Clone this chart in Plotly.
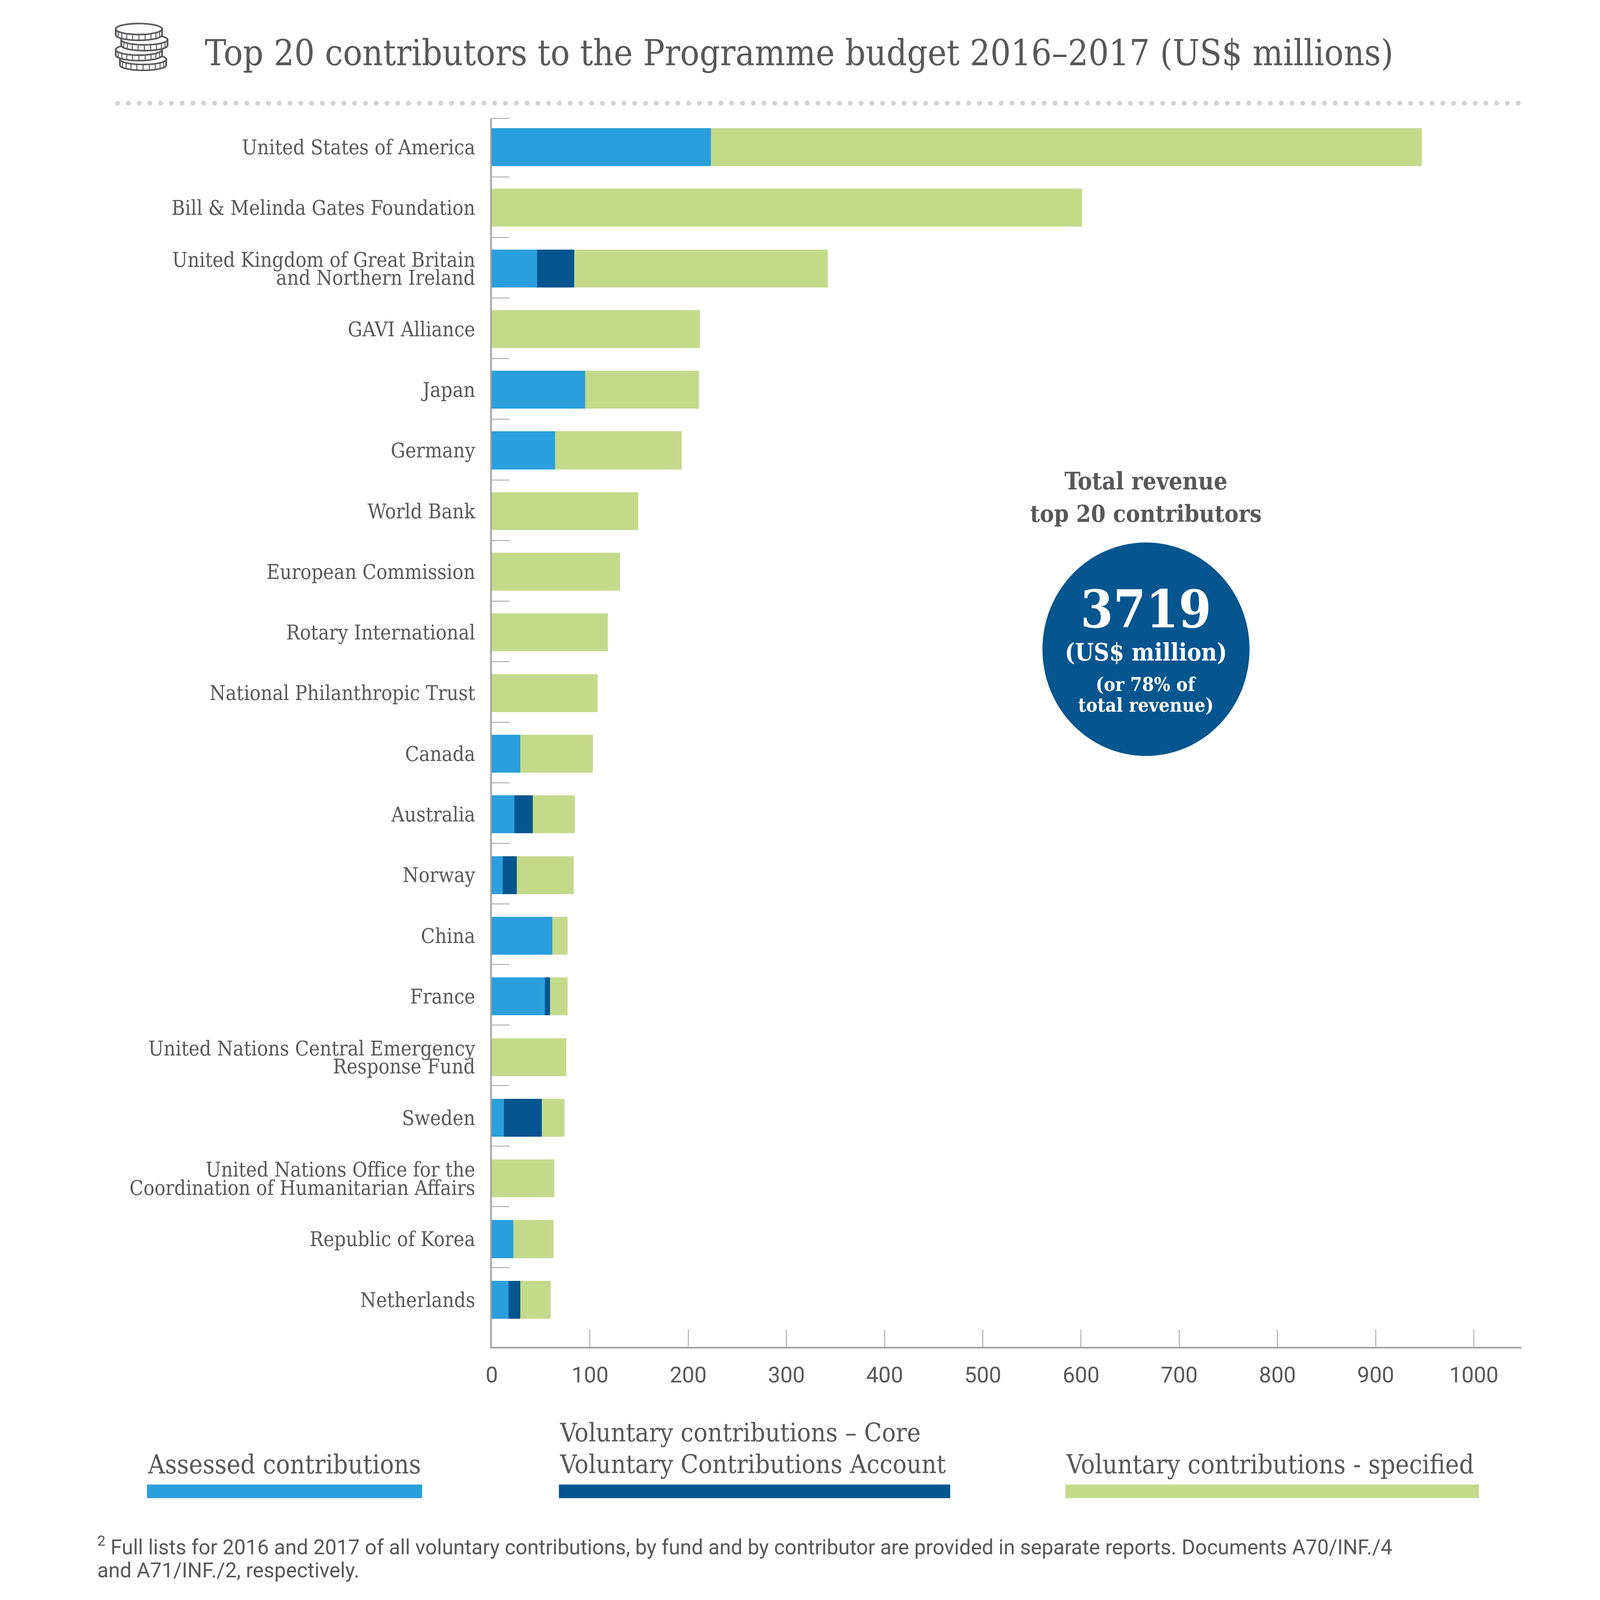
import numpy as np
import plotly.graph_objects as go

# all numbers below are in picture pixels; the browser page is 4096 css px wide for the 4961 px shot
W, H = 4961, 4936
S = 4096 / W
L, R, T, B = 1525, 4717, 367, 4176

# contributors, top to bottom (\n marks a forced line break)
contributors = [
    "United States of America",
    "Bill & Melinda Gates Foundation",
    "United Kingdom of Great Britain\nand Northern Ireland",
    "GAVI Alliance",
    "Japan",
    "Germany",
    "World Bank",
    "European Commission",
    "Rotary International",
    "National Philanthropic Trust",
    "Canada",
    "Australia",
    "Norway",
    "China",
    "France",
    "United Nations Central Emergency\nResponse Fund",
    "Sweden",
    "United Nations Office for the\nCoordination of Humanitarian Affairs",
    "Republic of Korea",
    "Netherlands",
]
assessed = [223, 0, 46, 0, 95, 64.5, 0, 0, 0, 0, 29, 23, 11, 61.5, 54, 0, 12.5, 0, 22, 17]
core = [0, 0, 38, 0, 0, 0, 0, 0, 0, 0, 0, 18.7, 14.5, 0, 5.2, 0, 38.5, 0, 0, 12]
specified = [724, 601, 258, 212, 116, 129, 149, 130.5, 118, 107.6, 74, 43, 58, 15.5, 18, 76, 23, 63.5, 41, 31]
x_ticks = [0, 100, 200, 300, 400, 500, 600, 700, 800, 900, 1000]

BLUE = "#2a9fdc"
NAVY = "#05558f"
GREEN = "#c4da8b"
TEXT = "#58585a"
AXIS = "#a0a0a0"
SLAB = "DejaVu Serif Condensed"
SANS = "Roboto"


def px(x):
    return (x - L) / (R - L)


def py(y):
    return (B - y) / (B - T)


def note(x, y, text, size, family=SLAB, color=TEXT, anchor="left"):
    return dict(x=px(x), y=py(y), xref="paper", yref="paper", text=text, showarrow=False,
                xanchor=anchor, yanchor="middle", font=dict(family=family, size=size * S, color=color))


def box(x0, y0, x1, y1, color, kind="rect"):
    return dict(type=kind, xref="paper", yref="paper", x0=px(x0), x1=px(x1), y0=py(y0), y1=py(y1),
                fillcolor=color, line=dict(width=0))


def poly(points, fill=None, width=5):
    path = "M" + "L".join(f"{px(a):.6f},{py(b):.6f}" for a, b in points) + "Z"
    return dict(type="path", xref="paper", yref="paper", path=path,
                fillcolor=fill or "rgba(0,0,0,0)", line=dict(color=TEXT, width=width * S))


def coin(cx, top, rx, ry, h):
    # one coin of the icon: side wall, ribbing, then the top face
    t = np.linspace(0, np.pi, 30)
    bottom = [(cx + rx * np.cos(a), top + h + ry * np.sin(a)) for a in t]
    wall = [(cx + rx, top)] + bottom + [(cx - rx, top)]
    out = [poly(wall, "white")]
    for a in np.linspace(0.2, np.pi - 0.2, 11):
        x = cx + rx * np.cos(a)
        y = ry * np.sin(a)
        out.append(dict(type="line", xref="paper", yref="paper", x0=px(x), x1=px(x),
                        y0=py(top + y + 2), y1=py(top + h + y), line=dict(color=TEXT, width=3 * S)))
    out.append(poly([(cx + rx * np.cos(a), top + ry * np.sin(a)) for a in np.linspace(0, 2 * np.pi, 60)], "white"))
    return out


# y tick labels: two-line names get one tick per line, the line spacing is tighter than a <br>
tick_vals, tick_text = [], []
for i, name in enumerate(contributors):
    lines = name.split("\n")
    if len(lines) == 1:
        tick_vals.append(i)
        tick_text.append(name)
    else:
        tick_vals += [i - 0.145, i + 0.155]
        tick_text += lines

fig = go.Figure()
y_pos = list(range(len(contributors)))
for name, vals, color in [("Assessed contributions", assessed, BLUE),
                          ("Voluntary contributions – Core Voluntary Contributions Account", core, NAVY),
                          ("Voluntary contributions - specified", specified, GREEN)]:
    fig.add_trace(go.Bar(y=y_pos, x=vals, name=name, orientation="h", width=0.625,
                         marker=dict(color=color, line=dict(width=0))))

shapes = []
# coins, bottom one first
shapes += coin(444, 184, 72, 16, 18)
shapes += coin(431, 154, 72, 17, 17)
shapes += coin(448, 123, 72, 16, 18)
shapes += coin(431, 90, 72, 17, 18)
# dotted rule under the title
for x in np.arange(365, 4717, 33.4):
    shapes.append(box(x - 7.5, 312.5, x + 7.5, 327.5, "#d1d1d1", "circle"))
# legend swatches
shapes.append(box(456, 4603, 1309, 4645, BLUE))
shapes.append(box(1733, 4603, 2946, 4645, NAVY))
shapes.append(box(3303, 4603, 4585, 4645, GREEN))
# total revenue disc, it is a little taller than wide in the source
shapes.append(box(3553 - 321, 2013 - 331, 3553 + 321, 2013 + 331, NAVY, "circle"))

annotations = [
    note(3553, 1491, "<b>Total revenue</b>", 74, anchor="center"),
    note(3553, 1592, "<b>top 20 contributors</b>", 73, anchor="center"),
    note(3553, 1888, "<b>3719</b>", 162, color="white", anchor="center"),
    note(3553, 2022, "<b>(US$ million)</b>", 74, color="white", anchor="center"),
    note(3553, 2121, "<b>(or 78% of</b>", 59, color="white", anchor="center"),
    note(3553, 2185, "<b>total revenue)</b>", 59, color="white", anchor="center"),
    note(456, 4540, "Assessed contributions", 80.5),
    note(1733, 4442, "Voluntary contributions – Core", 80),
    note(1733, 4540, "Voluntary Contributions Account", 80),
    note(3303, 4540, "Voluntary contributions - specified", 80.5),
    note(300, 4793, "<sup>2</sup> Full lists for 2016 and 2017 of all voluntary contributions, by fund and by contributor "
                    "are provided in separate reports. Documents A70/INF./4", 64, family=SANS),
    note(300, 4869, "and A71/INF./2, respectively.", 64, family=SANS),
]

fig.update_layout(
    width=round(W * S),
    height=round(H * S),
    barmode="stack",
    showlegend=False,
    plot_bgcolor="white",
    paper_bgcolor="white",
    margin=dict(l=L * S, r=(W - R) * S, t=T * S, b=(H - B) * S, pad=0, autoexpand=False),
    title=dict(text="Top 20 contributors to the Programme budget 2016–2017 (US$ millions)",
               x=635 / W, xanchor="left", xref="container", y=1 - 164 / H, yanchor="middle", yref="container",
               font=dict(family=SLAB, size=111 * S, color=TEXT)),
    shapes=shapes,
    annotations=annotations,
    xaxis=dict(range=[0, 1048.5], tickvals=x_ticks, ticks="inside", ticklen=53 * S, tickwidth=3 * S, tickcolor=AXIS,
               showline=True, linecolor=AXIS, linewidth=5 * S, showgrid=False, zeroline=False,
               ticklabelstandoff=round(24 * S), tickfont=dict(family=SANS, size=68 * S, color=TEXT)),
    yaxis=dict(range=[19.777, -0.473], tickmode="array", tickvals=tick_vals, ticktext=tick_text, ticks="",
               showline=True, linecolor=AXIS, linewidth=5 * S, showgrid=False, zeroline=False,
               ticklabelstandoff=round(34 * S), tickfont=dict(family=SLAB, size=63 * S, color=TEXT),
               minor=dict(tickvals=[-0.473] + [0.494 + 0.9985 * k for k in y_pos[:-1]], ticks="inside",
                          ticklen=54 * S, tickwidth=3 * S, tickcolor=AXIS, showgrid=False)),
)

fig.write_html("out.html", config={"displayModeBar": False}, post_script="document.body.style.margin='0';")
